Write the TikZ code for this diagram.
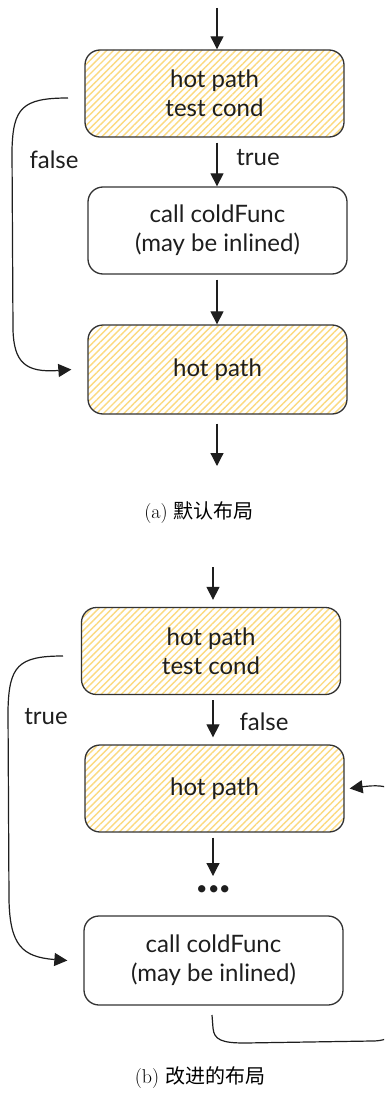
\documentclass[tikz,border=0pt]{standalone}
\usepackage{fontspec}
\setsansfont{Lato}
\newfontfamily\cjk{Noto Sans CJK SC}
\usetikzlibrary{arrows.meta,patterns.meta}
\definecolor{ink}{HTML}{1E1E1E}
\definecolor{edge}{HTML}{333333}
\definecolor{hatch}{RGB}{251,218,128}
\tikzset{
  box/.style={draw=edge, line width=1.3pt, rounded corners=15pt, minimum width=259pt, minimum height=87pt, align=center, inner sep=0pt, font=\sffamily\fontsize{24}{29}\selectfont, text=ink},
  hot/.style={box, preaction={fill=white}, pattern={Lines[angle=45,distance=4.8pt,line width=1.4pt]}, pattern color=hatch},
  conn/.style={draw=ink, line width=1.2pt, -{Triangle[length=13pt,width=13pt]}},
  lbl/.style={font=\sffamily\fontsize{24}{28}\selectfont, text=ink, inner sep=0pt},
  captext/.style={font=\fontsize{20}{24}\selectfont, text=black, inner sep=0pt}
}
\begin{document}
\begin{tikzpicture}[x=1pt,y=-1pt]
\useasboundingbox (0,0) rectangle (384,1094);
% ---------- (a) ----------
\node[hot] (a1) at (214.5,93.5) {hot path\\test cond};
\node[box] (a2) at (217.5,230.5) {call coldFunc\\(may be inlined)};
\node[hot, minimum height=89pt] (a3) at (217.5,369.5) {hot path};
\coordinate (a0) at (217,8);
\coordinate (a4) at (217,466);
\coordinate (afs) at (68,98);
\draw[conn] (a0) -- (a1.north -| a0);
\draw[conn] ([yshift=-5pt]a1.south -| a0) -- (a2.north -| a0);
\draw[conn] ([yshift=-5pt]a2.south -| a0) -- (a3.north -| a0);
\draw[conn] ([yshift=-9pt]a3.south -| a0) -- (a4);
\draw[conn] (afs) .. controls (22,98) and (13,108) .. (12,150) -- (13,330) .. controls (14,362) and (25,373) .. ([xshift=-16pt]a3.west);
\node[lbl] (afalse) at (54,160) {false};
\node[lbl] (atrue) at (258,158) {true};
\node[captext] (capa) at (199,513) {(a) {\cjk 默认布局}};
% ---------- (b) ----------
\node[hot] (b1) at (211,651) {hot path\\test cond};
\node[hot] (b2) at (214.5,788.5) {hot path};
\node[box, minimum height=89pt] (b3) at (213.5,960.5) {call coldFunc\\(may be inlined)};
\coordinate (b0) at (213,567);
\coordinate (bdots) at (213,876);
\coordinate (bts) at (63,656);
\coordinate (bls) at (212,1015);
\node[lbl, font=\sffamily\bfseries\fontsize{48}{48}\selectfont, anchor=base] (dots) at (214,892) {...};
\draw[conn] (b0) -- ([yshift=7pt]b1.north -| b0);
\draw[conn] ([yshift=-5pt]b1.south -| b0) -- ([yshift=7pt]b2.north -| b0);
\draw[conn] ([yshift=-5pt]b2.south -| b0) -- (bdots);
\draw[conn] (bts) .. controls (18,656) and (9,666) .. (8,710) -- (9,900) .. controls (10,945) and (22,957) .. ([xshift=-16pt]b3.west);
\begin{scope}
\clip (0,0) rectangle (384,1094);
\draw[conn] (bls) -- (213,1028) .. controls (214,1040) and (222,1043) .. (245,1043) -- (372,1041) .. controls (395,1041) and (400,1030) .. (400,1000) -- (400,810) .. controls (400,790) and (390,783) .. ([xshift=5pt]b2.east);
\end{scope}
\node[lbl] (btrue) at (46,717) {true};
\node[lbl] (bfalse) at (264,722) {false};
\node[captext] (capb) at (200,1078) {(b) {\cjk 改进的布局}};
\end{tikzpicture}
\end{document}
